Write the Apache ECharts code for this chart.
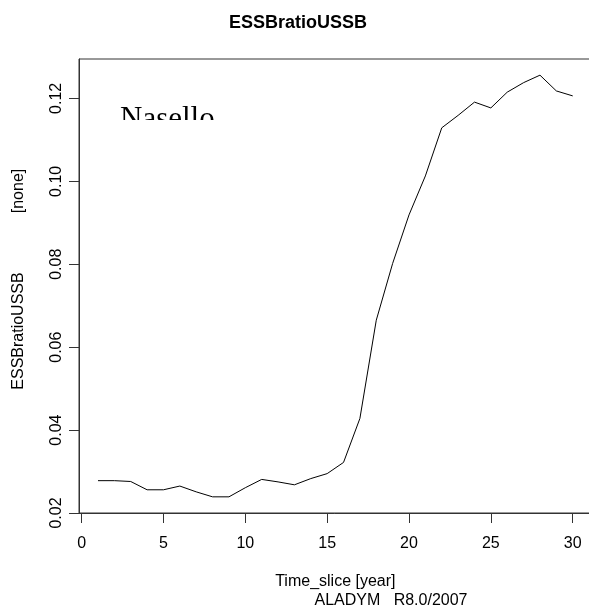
<!DOCTYPE html>
<html>
<head>
<meta charset="utf-8">
<script src="https://cdn.jsdelivr.net/npm/echarts@6/dist/echarts.min.js"></script>
<style>
html,body{margin:0;padding:0;background:#fff;}
#chart{width:589px;height:608px;}
</style>
</head>
<body>
<div id="chart"></div>
<script>
var timeSlices = [1,2,3,4,5,6,7,8,9,10,11,12,13,14,15,16,17,18,19,20,21,22,23,24,25,26,27,28,29,30];
var essbRatio = [0.0278,0.0278,0.0276,0.0256,0.0256,0.0265,0.0251,0.0239,0.0239,0.0261,0.0281,0.0275,0.0268,0.0283,0.0295,0.0322,0.0428,0.0665,0.0802,0.0919,0.1013,0.1129,0.1159,0.1191,0.1177,0.1215,0.1238,0.1256,0.1218,0.1206];
var xTicks = [0,5,10,15,20,25,30];
var yTicks = [0.02,0.04,0.06,0.08,0.10,0.12];

var FONT = "'Liberation Sans', Arial, sans-serif";
var chart = echarts.init(document.getElementById('chart'), null, {renderer:'canvas'});
var seriesData = timeSlices.map(function(t,i){return [t, essbRatio[i]];});

chart.setOption({
  animation: false,
  backgroundColor: '#ffffff',
  title: {
    text: 'ESSBratioUSSB',
    left: 298, top: 14, textAlign: 'center', padding: 0,
    textStyle: {fontFamily: FONT, fontSize: 18, fontWeight: 'bold', color: '#000'}
  },
  grid: {
    left: 79, top: 59, width: 512.7, height: 454,
    show: true, borderColor: '#333', borderWidth: 1, backgroundColor: 'transparent',
    containLabel: false, outerBoundsMode: 'none'
  },
  xAxis: {
    type: 'value', min: -0.16, max: 31.16,
    name: 'Time_slice [year]', nameLocation: 'middle', nameGap: 61,
    nameTextStyle: {fontFamily: FONT, fontSize: 16, color: '#000'},
    axisLine: {show: true, onZero: false, lineStyle: {color: '#333', width: 1}},
    axisTick: {show: true, length: 10, inside: false, customValues: xTicks, lineStyle: {color: '#333'}},
    axisLabel: {show: true, customValues: xTicks, margin: 23, fontFamily: FONT, fontSize: 16, color: '#000',
      formatter: function(v){return String(v);}},
    splitLine: {show: false}
  },
  yAxis: {
    type: 'value', min: 0.02, max: 0.1295,
    axisLine: {show: true, onZero: false, lineStyle: {color: '#333', width: 1}},
    axisTick: {show: true, length: 10, inside: false, customValues: yTicks, lineStyle: {color: '#333'}},
    axisLabel: {show: true, customValues: yTicks, rotate: 90, margin: 14, fontFamily: FONT, fontSize: 16, color: '#000',
      formatter: function(v){return v.toFixed(2);}},
    splitLine: {show: false}
  },
  series: [{
    type: 'line', data: seriesData, showSymbol: false, symbol: 'none',
    lineStyle: {color: '#000', width: 1}, silent: true
  }],
  graphic: [
    {type: 'text', x: 120, y: 104, z: 100,
      style: {text: 'Nasello', font: "31px 'Liberation Serif', 'Times New Roman', serif", fill: '#000', textAlign: 'left', textVerticalAlign: 'top'}},
    {type: 'rect', shape: {x: 110, y: 120, width: 120, height: 20}, z: 101,
      style: {fill: '#ffffff'}},
    {type: 'text', x: 19, y: 191, rotation: Math.PI/2, z: 100,
      style: {text: '[none]', font: "16px 'Liberation Sans', Arial, sans-serif", fill: '#000', textAlign: 'center', textVerticalAlign: 'middle'}},
    {type: 'text', x: 19, y: 331, rotation: Math.PI/2, z: 100,
      style: {text: 'ESSBratioUSSB', font: "16px 'Liberation Sans', Arial, sans-serif", fill: '#000', textAlign: 'center', textVerticalAlign: 'middle'}},
    {type: 'text', x: 314.5, y: 601, z: 100,
      style: {text: 'ALADYM   R8.0/2007', font: "16px 'Liberation Sans', Arial, sans-serif", fill: '#000', textAlign: 'left', textVerticalAlign: 'middle'}}
  ]
});
</script>
</body>
</html>
